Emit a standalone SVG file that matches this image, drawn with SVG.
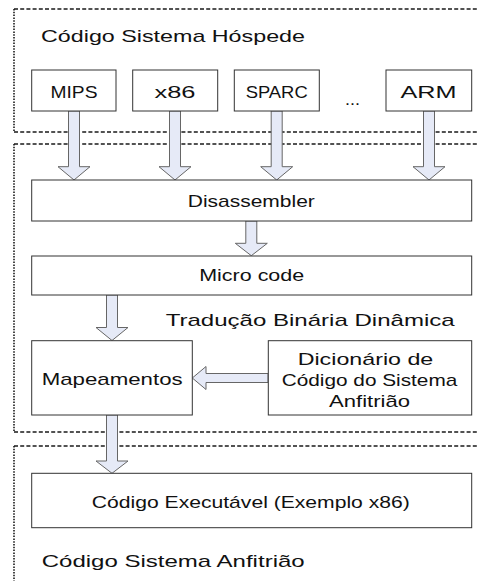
<svg xmlns="http://www.w3.org/2000/svg" width="478" height="581" viewBox="0 0 478 581">
<style>
  .bg{fill:#ffffff}
  .hd{stroke:#1a1a1a;stroke-width:1.3;stroke-dasharray:4 2.2;fill:none}
  .vd{stroke:#1a1a1a;stroke-width:1.6;stroke-dasharray:1.5 1.3;fill:none}
  .box{fill:#ffffff;stroke:#333333;stroke-width:1}
  .arr{fill:#e6eaf7;stroke:#666666;stroke-width:1}
  text{font-family:"Liberation Sans",Arial,sans-serif;font-size:17px;fill:#111111}
  .m{text-anchor:middle}
</style>
<rect class="bg" x="0" y="0" width="478" height="581"/>
<g id="regions">
  <line class="hd" x1="14" y1="9" x2="478" y2="9"/>
  <line class="hd" x1="14" y1="132" x2="478" y2="132"/>
  <line class="vd" x1="14" y1="9" x2="14" y2="132"/>
  <line class="hd" x1="14" y1="144" x2="478" y2="144"/>
  <line class="hd" x1="14" y1="432" x2="478" y2="432"/>
  <line class="vd" x1="14" y1="144" x2="14" y2="432"/>
  <line class="hd" x1="14" y1="446" x2="478" y2="446"/>
  <line class="vd" x1="14" y1="446" x2="14" y2="581"/>
</g>
<g id="labels">
  <text x="41" y="42" textLength="264" lengthAdjust="spacingAndGlyphs">Código Sistema Hóspede</text>
  <text x="165.7" y="325.7" textLength="289" lengthAdjust="spacingAndGlyphs">Tradução Binária Dinâmica</text>
  <text x="41.7" y="566.7" textLength="263" lengthAdjust="spacingAndGlyphs">Código Sistema Anfitrião</text>
  <text class="m" x="352.5" y="104.5" textLength="15" lengthAdjust="spacingAndGlyphs">...</text>
</g>
<g id="connectors">
  <path class="arr" d="M68.5,111 H79.5 V166.7 H90 L74,180 L58,166.7 H68.5 Z"/>
  <path class="arr" d="M169.5,111 H180.5 V166.7 H191 L175,180 L159,166.7 H169.5 Z"/>
  <path class="arr" d="M271.2,111 H282.2 V166.7 H292.7 L276.7,180 L260.7,166.7 H271.2 Z"/>
  <path class="arr" d="M423.5,111 H434.5 V166.7 H445 L429,180 L413,166.7 H423.5 Z"/>
  <path class="arr" d="M245.8,221 H256.8 V243.3 H267.3 L251.3,255.7 L235.3,243.3 H245.8 Z"/>
  <path class="arr" d="M106.5,295 H117.5 V327.5 H128 L112,340.5 L96,327.5 H106.5 Z"/>
  <path class="arr" d="M106.5,415 H117.5 V461 H128 L112,473.3 L96,461 H106.5 Z"/>
  <path class="arr" d="M268,373.5 V382.5 H206 V389.5 L192.3,378 L206,366.5 V373.5 Z"/>
</g>
<g id="mips">
  <rect class="box" x="31.7" y="70" width="84.3" height="41"/>
  <text class="m" x="74" y="97.7" textLength="47" lengthAdjust="spacingAndGlyphs">MIPS</text>
</g>
<g id="x86">
  <rect class="box" x="132.7" y="70" width="85" height="41"/>
  <text class="m" x="175" y="97.7" textLength="41" lengthAdjust="spacingAndGlyphs">x86</text>
</g>
<g id="sparc">
  <rect class="box" x="234.3" y="70" width="85" height="41"/>
  <text class="m" x="276.7" y="97.7" textLength="62" lengthAdjust="spacingAndGlyphs">SPARC</text>
</g>
<g id="arm">
  <rect class="box" x="386" y="70" width="85.7" height="41"/>
  <text class="m" x="428.5" y="97.7" textLength="56" lengthAdjust="spacingAndGlyphs">ARM</text>
</g>
<g id="disassembler">
  <rect class="box" x="31.7" y="180" width="440" height="41"/>
  <text class="m" x="251.3" y="206.7" textLength="127" lengthAdjust="spacingAndGlyphs">Disassembler</text>
</g>
<g id="microcode">
  <rect class="box" x="31.7" y="256" width="440" height="39"/>
  <text class="m" x="251.7" y="280.7" textLength="105" lengthAdjust="spacingAndGlyphs">Micro code</text>
</g>
<g id="mapeamentos">
  <rect class="box" x="31.7" y="340.7" width="160.6" height="74.3"/>
  <text class="m" x="112.2" y="385" textLength="141" lengthAdjust="spacingAndGlyphs">Mapeamentos</text>
</g>
<g id="dicionario">
  <rect class="box" x="268.3" y="340.7" width="203.4" height="74.3"/>
  <text class="m" x="365.5" y="364.5" textLength="135.6" lengthAdjust="spacingAndGlyphs">Dicionário de</text>
  <text class="m" x="369.5" y="385.5" textLength="175.6" lengthAdjust="spacingAndGlyphs">Código do Sistema</text>
  <text class="m" x="369.5" y="406.5" textLength="81" lengthAdjust="spacingAndGlyphs">Anfitrião</text>
</g>
<g id="executavel">
  <rect class="box" x="31.7" y="473.3" width="440" height="54.4"/>
  <text class="m" x="250.8" y="507.7" textLength="318" lengthAdjust="spacingAndGlyphs">Código Executável (Exemplo x86)</text>
</g>
</svg>
